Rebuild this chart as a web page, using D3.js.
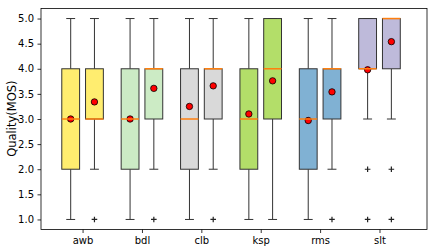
<!DOCTYPE html>
<html>
<head>
<meta charset="utf-8">
<script src="https://cdn.jsdelivr.net/npm/d3@7"></script>
<style>
  body { margin: 0; background: #fff; }
  text { font-family: 'DejaVu Sans', sans-serif; }
</style>
</head>
<body>
<div id="chart"></div>
<script>
// speakers on the x axis
var categories = ['awb', 'bdl', 'clb', 'ksp', 'rms', 'slt']
var boxColors = ['#ffed6f', '#ccebc5', '#d9d9d9', '#b3de69', '#80b1d3', '#bebada']

// [whiskerLow, q1, median, q3, whiskerHigh] for the left and right box of each pair
var statsA = [
  [1, 2, 3, 4, 5],
  [1, 2, 3, 4, 5],
  [1, 2, 3, 4, 5],
  [1, 2, 3, 4, 5],
  [1, 2, 3, 4, 5],
  [3, 4, 4, 5, 5]
]
var statsB = [
  [2, 3, 3, 4, 5],
  [2, 3, 4, 4, 5],
  [2, 3, 4, 4, 5],
  [1, 3, 4, 5, 5],
  [2, 3, 4, 4, 5],
  [3, 4, 5, 5, 5]
]
var meansA = [3.0, 3.0, 3.25, 3.1, 2.97, 3.98]
var meansB = [3.34, 3.61, 3.66, 3.76, 3.54, 4.54]
var fliersA = [[], [], [], [], [], [2, 1]]
var fliersB = [[1], [1], [1], [], [1], [2, 1]]

var yTicks = [1.0, 1.5, 2.0, 2.5, 3.0, 3.5, 4.0, 4.5, 5.0]

var margin = { top: 8.5, left: 41, right: 9, bottom: 21.5 }
var width = 436 - margin.left - margin.right
var height = 251 - margin.top - margin.bottom

var svg = d3
  .select('#chart')
  .append('svg')
  .attr('width', 436)
  .attr('height', 251)
  .append('g')
  .attr('transform', `translate(${margin.left},${margin.top})`)

let xPositionScale = d3.scaleLinear().domain([-0.7, 5.8]).range([0, width])
let yPositionScale = d3.scaleLinear().domain([0.8, 5.2]).range([height, 0])

let boxes = []
categories.forEach((c, i) => {
  boxes.push({ pos: i - 0.2, s: statsA[i], mean: meansA[i], fliers: fliersA[i], color: boxColors[i] })
  boxes.push({ pos: i + 0.2, s: statsB[i], mean: meansB[i], fliers: fliersB[i], color: boxColors[i] })
})

let boxW = xPositionScale(0.3) - xPositionScale(0)

svg
  .selectAll('.box')
  .data(boxes)
  .enter()
  .append('g')
  .attr('class', 'box')
  .each(function(d) {
    let g = d3.select(this)
    let cx = xPositionScale(d.pos)
    // whiskers
    g.append('line')
      .attr('x1', cx).attr('x2', cx)
      .attr('y1', yPositionScale(d.s[0])).attr('y2', yPositionScale(d.s[1]))
      .attr('stroke', '#333').attr('stroke-width', 1)
    g.append('line')
      .attr('x1', cx).attr('x2', cx)
      .attr('y1', yPositionScale(d.s[3])).attr('y2', yPositionScale(d.s[4]))
      .attr('stroke', '#333').attr('stroke-width', 1)
    // caps
    ;[d.s[0], d.s[4]].forEach(v => {
      g.append('line')
        .attr('x1', cx - boxW / 4).attr('x2', cx + boxW / 4)
        .attr('y1', yPositionScale(v)).attr('y2', yPositionScale(v))
        .attr('stroke', '#333').attr('stroke-width', 1)
    })
    // box
    g.append('rect')
      .attr('x', cx - boxW / 2)
      .attr('width', boxW)
      .attr('y', yPositionScale(d.s[3]))
      .attr('height', yPositionScale(d.s[1]) - yPositionScale(d.s[3]))
      .attr('fill', d.color)
      .attr('stroke', '#333')
      .attr('stroke-width', 1)
    // mean
    g.append('circle')
      .attr('cx', cx)
      .attr('cy', yPositionScale(d.mean))
      .attr('r', 3.2)
      .attr('fill', '#ff0000')
      .attr('stroke', '#000')
      .attr('stroke-width', 0.8)
    // median
    g.append('line')
      .attr('x1', cx - boxW / 2).attr('x2', cx + boxW / 2)
      .attr('y1', yPositionScale(d.s[2])).attr('y2', yPositionScale(d.s[2]))
      .attr('stroke', '#ff7f0e').attr('stroke-width', 1.5)
    // fliers
    d.fliers.forEach(v => {
      let fy = yPositionScale(v)
      g.append('path')
        .attr('d', `M${cx - 2.8},${fy}H${cx + 2.8}M${cx},${fy - 2.8}V${fy + 2.8}`)
        .attr('stroke', '#222').attr('stroke-width', 1.2)
    })
  })

/* Set up axes */
var xAxis = d3
  .axisBottom(xPositionScale)
  .tickValues(d3.range(categories.length))
  .tickFormat(i => categories[i])
  .tickSizeOuter(0)
  .tickSize(3.5)
  .tickPadding(3.5)
svg
  .append('g')
  .attr('class', 'axis x-axis')
  .attr('transform', 'translate(0,' + height + ')')
  .call(xAxis)

var yAxis = d3
  .axisLeft(yPositionScale)
  .tickValues(yTicks)
  .tickFormat(d3.format('.1f'))
  .tickSizeOuter(0)
  .tickSize(3.5)
  .tickPadding(3.5)
svg
  .append('g')
  .attr('class', 'axis y-axis')
  .call(yAxis)

svg.selectAll('.axis text').attr('font-size', 10).attr('fill', '#000').attr('font-family', 'DejaVu Sans, sans-serif')
svg.selectAll('.axis .tick line').attr('stroke', '#000').attr('stroke-width', 0.8)
svg.selectAll('.axis .domain').remove()

// frame
svg
  .append('rect')
  .attr('x', 0)
  .attr('y', 0)
  .attr('width', width)
  .attr('height', height)
  .attr('fill', 'none')
  .attr('stroke', '#000')
  .attr('stroke-width', 0.8)

svg
  .append('text')
  .attr('transform', `translate(${-25.5},${118.7 - margin.top}) rotate(-90)`)
  .attr('text-anchor', 'middle')
  .attr('font-size', 11.5)
  .text('Quality(MOS)')
</script>
</body>
</html>
